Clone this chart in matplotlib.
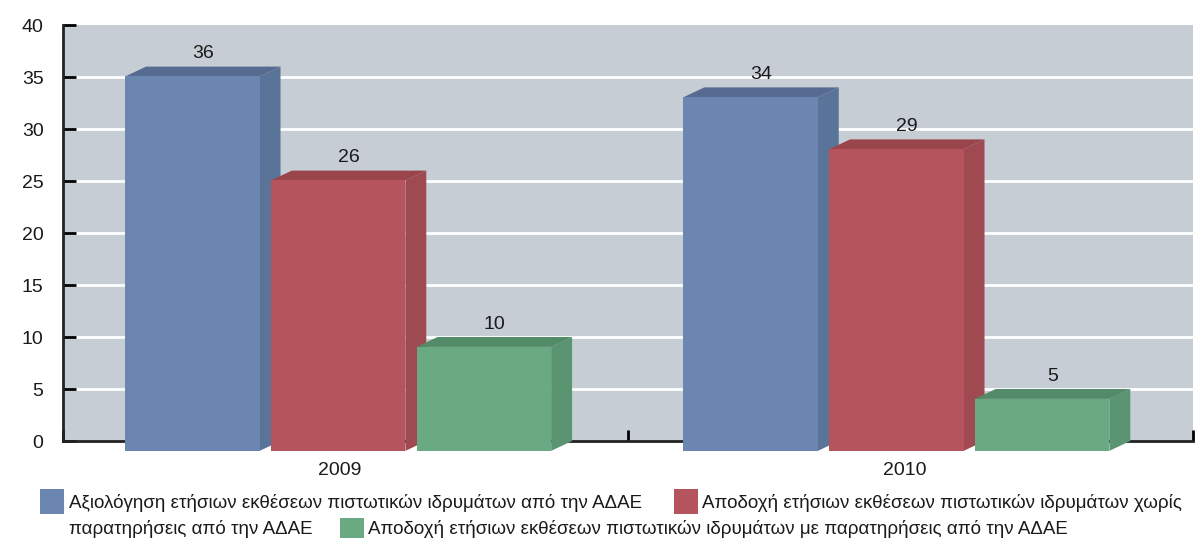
import matplotlib
matplotlib.use('Agg')
import matplotlib.pyplot as plt
from matplotlib.patches import Polygon, Rectangle

plt.rcParams['font.family'] = ['Liberation Sans', 'DejaVu Sans']

# data
years = ['2009', '2010']
series_names = [
    'Αξιολόγηση ετήσιων εκθέσεων πιστωτικών ιδρυμάτων από την ΑΔΑΕ',
    'Αποδοχή ετήσιων εκθέσεων πιστωτικών ιδρυμάτων χωρίς παρατηρήσεις από την ΑΔΑΕ',
    'Αποδοχή ετήσιων εκθέσεων πιστωτικών ιδρυμάτων με παρατηρήσεις από την ΑΔΑΕ',
]
values = [
    [36, 34],   # αξιολόγηση
    [26, 29],   # χωρίς παρατηρήσεις
    [10, 5],    # με παρατηρήσεις
]
yticks = [0, 5, 10, 15, 20, 25, 30, 35, 40]

# colours: front, side, top
colors = [
    ('#6b87b1', '#5a7399', '#566b8f'),
    ('#b5545c', '#9f4a50', '#9a454b'),
    ('#6aaa83', '#5a9471', '#538a68'),
]

W, H = 1195, 538
fig = plt.figure(figsize=(W / 100, H / 100), dpi=100)
ax = fig.add_axes([63 / W, 1 - 441 / H, (1193 - 63) / W, (441 - 25) / H])
ax.set_facecolor('#c6cdd4')
ax.set_xlim(0, 2)
ax.set_ylim(0, 40)

ax.set_yticks(yticks)
ax.set_yticklabels([str(t) for t in yticks], fontsize=14, color='#1a1a1a')
ax.tick_params(axis='y', direction='in', length=9, width=2, pad=14)
ax.set_xticks([0, 1, 2])
ax.set_xticklabels([])
ax.tick_params(axis='x', direction='in', length=8, width=2)
for t in yticks[1:-1]:
    ax.axhline(t, color='white', lw=2, zorder=1)
for s in ['top', 'right']:
    ax.spines[s].set_visible(False)
for s in ['left', 'bottom']:
    ax.spines[s].set_linewidth(2)
    ax.spines[s].set_color('#222222')

bw = 0.238      # bar width
step = 0.258    # bar spacing
dx = 0.037      # depth in x
dy = 0.95       # depth in y (data units)

for j, year in enumerate(years):
    c = j + 0.5
    for i in range(len(values)):
        v = values[i][j]
        front, side, top = colors[i]
        x0 = c - 0.390 - 0.012 * j + i * step
        x1 = x0 + bw
        ax.add_patch(Polygon([(x1, -dy), (x1 + dx, 0), (x1 + dx, v), (x1, v - dy)],
                             closed=True, fc=side, ec='none', zorder=3, clip_on=False))
        ax.add_patch(Polygon([(x0, v - dy), (x0 + dx, v), (x1 + dx, v), (x1, v - dy)],
                             closed=True, fc=top, ec='none', zorder=3, clip_on=False))
        ax.add_patch(Rectangle((x0, -dy), bw, v, fc=front, ec='none', zorder=3, clip_on=False))
        ax.annotate(str(v), (x0 + (bw + dx) / 2, v), xytext=(0, 3), textcoords='offset points',
                    ha='center', va='bottom', fontsize=14, color='#1a1a1a')
    ax.text(c - 0.01, -2.0, year, ha='center', va='top', fontsize=14, color='#1a1a1a')

# legend laid out as wrapped text like the original
def legend_box(x, y, color):
    fig.patches.append(Rectangle((x / W, 1 - (y + 12) / H), 24 / W, 25 / H,
                                 transform=fig.transFigure, fc=color, ec='none'))

def ftext(x, y, s):
    fig.text(x / W, 1 - y / H, s, ha='left', va='center', fontsize=13.5, color='#1a1a1a')

words = series_names[1].split(' ')
legend_box(40, 502, colors[0][0])
ftext(69, 503, series_names[0])
legend_box(674, 502, colors[1][0])
ftext(702, 503, ' '.join(words[:6]))
ftext(69, 529, ' '.join(words[6:]))
legend_box(340, 531, colors[2][0])
ftext(368, 529, series_names[2])

fig.savefig('out.png', dpi=100)
